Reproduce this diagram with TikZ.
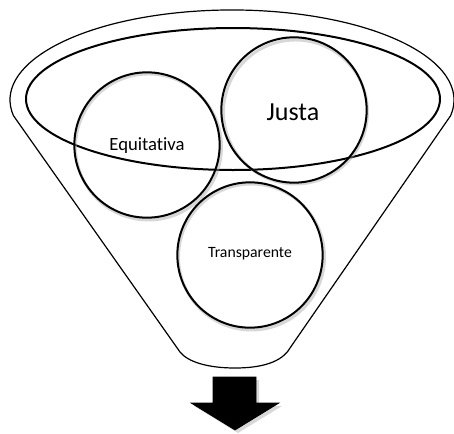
\documentclass[tikz,border=0pt]{standalone}
\usepackage{fontspec}
\setmainfont[Ligatures=NoCommon]{Carlito}
\usetikzlibrary{calc}
\tikzset{
  funnel/.style={draw=black, line width=0.9pt, line join=round},
  rim/.style={draw=black, line width=1.5pt},
  ring/.style={circle, draw=black, line width=1.5pt, minimum size=109pt, inner sep=0pt},
  ringshadow/.style={draw=black!35, line width=2.2pt, opacity=0.45},
  bigarrow/.style={fill=black, draw=black, line width=0.5pt},
  arrowshadow/.style={fill=black!30, opacity=0.5},
}
\begin{document}
\begin{tikzpicture}[x=0.75pt, y=-0.75pt]
  \useasboundingbox (0,0) rectangle (454,433);

  % funnel body: top lip arc, sloping sides and rounded spout
  \draw[funnel] (13.4,115.6) arc[start angle=170, end angle=370, x radius=222, y radius=90]
    -- (290,348) .. controls (282,362) and (262,368) .. (235,368)
    .. controls (208,368) and (188,362) .. (180,352) -- cycle;

  % inner rim of the funnel mouth
  \draw[rim] (233,99) ellipse[x radius=207, y radius=71];

  % soft shadows under the three rings
  \draw[ringshadow] (148.5,147) circle[radius=73];
  \draw[ringshadow] (295.5,112) circle[radius=72];
  \draw[ringshadow] (251.5,257) circle[radius=73];

  % the three rings
  \node[ring] (equi) at (147,145) {};
  \node[ring] (justa) at (294,110) {};
  \node[ring] (trans) at (250,255) {};
  \node[font=\fontsize{14}{16}\selectfont] (equitxt) at (147,146) {Equitativa};
  \node[font=\fontsize{19.5}{22}\selectfont] (justatxt) at (293,112) {Justa};
  \node[font=\fontsize{11.8}{13}\selectfont] (transtxt) at (250,254) {Transparente};

  % output arrow below the spout
  \fill[arrowshadow] (216,380) -- (259,380) -- (259,406) -- (282,406) -- (238,433) -- (194,406) -- (216,406) -- cycle;
  \draw[bigarrow] (213,377) -- (256,377) -- (256,403) -- (279,403) -- (235,430) -- (191,403) -- (213,403) -- cycle;
\end{tikzpicture}
\end{document}
